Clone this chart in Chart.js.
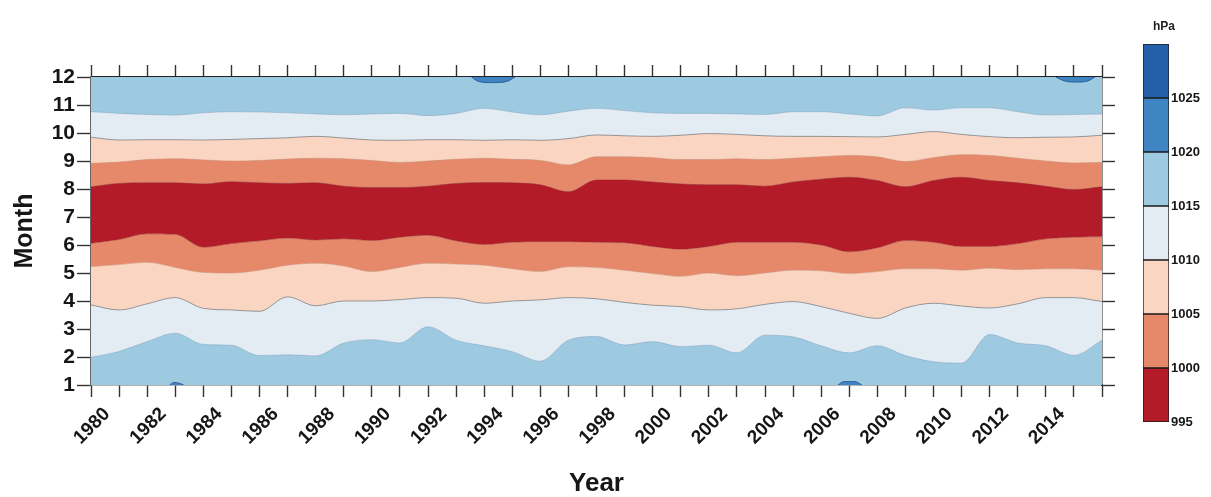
<!DOCTYPE html>
<html lang="en">
<head>
<meta charset="UTF-8">
<title>Monthly pressure by year</title>
<script src="https://cdn.jsdelivr.net/npm/chart.js@4.4.1/dist/chart.umd.min.js"></script>
<style>
  body { margin: 0; background: #fff; font-family: "Liberation Sans", Arial, sans-serif; }
  .wrap { position: relative; width: 1211px; height: 497px; }
  #main { position: absolute; left: 0; top: 0; }
  #bar { position: absolute; left: 1133px; top: 0; }
  .unit { position: absolute; left: 1146px; top: 19px; width: 36px; text-align: center;
          font-weight: bold; font-size: 12px; color: #222; }
</style>
</head>
<body>
<div class="wrap">
  <canvas id="main" width="1211" height="497"></canvas>
  <canvas id="bar" width="78" height="497"></canvas>
  <div class="unit">hPa</div>
</div>
<script>
// years on the x axis
const years = [1980, 1981, 1982, 1983, 1984, 1985, 1986, 1987, 1988, 1989,
               1990, 1991, 1992, 1993, 1994, 1995, 1996, 1997, 1998, 1999,
               2000, 2001, 2002, 2003, 2004, 2005, 2006, 2007, 2008, 2009,
               2010, 2011, 2012, 2013, 2014, 2015, 2016];

// month position of each contour (lower and upper branch)
const c1015lo = [1.99, 2.2, 2.55, 2.85, 2.45, 2.42, 2.05, 2.08, 2.04, 2.5,
                 2.62, 2.5, 3.08, 2.6, 2.4, 2.19, 1.85, 2.6, 2.73, 2.43,
                 2.55, 2.37, 2.42, 2.15, 2.78, 2.72, 2.4, 2.15, 2.4, 2.05,
                 1.83, 1.78, 2.8, 2.5, 2.4, 2.06, 2.6];
const c1010lo = [3.86, 3.68, 3.9, 4.12, 3.74, 3.68, 3.63, 4.15, 3.83, 4.0,
                 4.0, 4.05, 4.12, 4.1, 3.92, 4.0, 4.04, 4.12, 4.08, 3.95,
                 3.85, 3.8, 3.68, 3.72, 3.88, 3.98, 3.8, 3.56, 3.38, 3.75,
                 3.92, 3.82, 3.75, 3.9, 4.12, 4.12, 3.98];
const c1005lo = [5.23, 5.3, 5.38, 5.2, 5.02, 5.0, 5.1, 5.28, 5.35, 5.25,
                 5.05, 5.2, 5.35, 5.32, 5.28, 5.15, 5.05, 5.22, 5.2, 5.1,
                 4.98, 4.88, 5.0, 4.9, 5.0, 5.1, 5.08, 4.98, 5.05, 5.15,
                 5.15, 5.1, 5.17, 5.12, 5.15, 5.15, 5.1];
const c1000lo = [6.06, 6.2, 6.4, 6.38, 5.92, 6.05, 6.15, 6.25, 6.18, 6.22,
                 6.16, 6.28, 6.35, 6.15, 6.02, 6.1, 6.12, 6.12, 6.1, 6.08,
                 5.95, 5.85, 5.95, 6.1, 6.1, 6.1, 6.0, 5.76, 5.9, 6.16,
                 6.1, 5.95, 5.95, 6.05, 6.22, 6.28, 6.3];
const c1000hi = [8.08, 8.2, 8.22, 8.22, 8.18, 8.26, 8.22, 8.2, 8.22, 8.1,
                 8.05, 8.05, 8.1, 8.2, 8.23, 8.22, 8.15, 7.9, 8.32, 8.32,
                 8.25, 8.18, 8.15, 8.15, 8.1, 8.25, 8.35, 8.42, 8.3, 8.08,
                 8.3, 8.42, 8.3, 8.22, 8.1, 7.98, 8.08];
const c1005hi = [8.92, 8.96, 9.05, 9.08, 9.04, 9.0, 9.02, 9.07, 9.1, 9.08,
                 9.02, 8.95, 9.0, 9.06, 9.1, 9.06, 9.02, 8.86, 9.15, 9.15,
                 9.12, 9.05, 9.05, 9.08, 9.05, 9.1, 9.15, 9.2, 9.15, 8.98,
                 9.12, 9.22, 9.2, 9.1, 9.0, 8.93, 8.95];
const c1010hi = [9.85, 9.75, 9.76, 9.76, 9.75, 9.77, 9.8, 9.83, 9.88, 9.82,
                 9.75, 9.74, 9.76, 9.76, 9.74, 9.76, 9.74, 9.8, 9.93, 9.9,
                 9.88, 9.92, 9.98, 9.95, 9.9, 9.88, 9.88, 9.87, 9.86, 9.95,
                 10.05, 9.95, 9.87, 9.83, 9.85, 9.86, 9.92];
const c1015hi = [10.76, 10.7, 10.66, 10.64, 10.72, 10.76, 10.75, 10.72, 10.68, 10.65,
                 10.68, 10.7, 10.62, 10.7, 10.88, 10.75, 10.65, 10.78, 10.88, 10.8,
                 10.72, 10.7, 10.7, 10.68, 10.66, 10.76, 10.76, 10.68, 10.61, 10.9,
                 10.82, 10.9, 10.9, 10.76, 10.64, 10.66, 10.68];

// small 1020 hPa patches at the edges
const patchTopAYears = [1993.55, 1993.8, 1994.3, 1994.8, 1995.1];
const patchTopAMonth = [12, 11.84, 11.8, 11.84, 12];
const patchTopBYears = [2014.35, 2014.7, 2015.1, 2015.5, 2015.75];
const patchTopBMonth = [12, 11.85, 11.82, 11.86, 12];
const patchLowAYears = [1982.8, 1982.95, 1983.15, 1983.3];
const patchLowAMonth = [1, 1.09, 1.06, 1];
const patchLowBYears = [2006.6, 2006.8, 2007.2, 2007.45];
const patchLowBMonth = [1, 1.12, 1.12, 1];

// colour bar levels (hPa)
const levels = [995, 1000, 1005, 1010, 1015, 1020, 1025, 1030];
const levelColors = ['#b31b29', '#e6896a', '#fad5c2', '#e3ebf3', '#9dc9e1', '#3f84c3', '#2460aa'];

Chart.defaults.font.family = '"Liberation Sans", Arial, sans-serif';

const pts = arr => years.map((yr, i) => ({ x: yr, y: arr[i] }));
const pts2 = (xs, ys) => xs.map((x, i) => ({ x: x, y: ys[i] }));

function band(data, color, line, fill) {
  return { data: data, borderColor: line, borderWidth: 1, backgroundColor: color, fill: fill };
}

const blue2 = levelColors[5];
const datasets = [
  band(pts2(patchTopAYears, patchTopAMonth), blue2, '#2b5f98', 'end'),
  band(pts2(patchTopBYears, patchTopBMonth), blue2, '#2b5f98', 'end'),
  band(pts2(patchLowAYears, patchLowAMonth), blue2, '#2b5f98', 'start'),
  band(pts2(patchLowBYears, patchLowBMonth), blue2, '#2b5f98', 'start'),
  band(pts(c1015lo), 'transparent', 'rgba(110,140,170,0.35)', false),
  band(pts(c1010lo), levelColors[3], 'rgba(120,120,120,0.7)', '-1'),
  band(pts(c1005lo), levelColors[2], 'rgba(215,140,110,0.5)', '-1'),
  band(pts(c1000lo), levelColors[1], 'rgba(160,40,40,0.5)', '-1'),
  band(pts(c1000hi), levelColors[0], 'rgba(160,40,40,0.5)', '-1'),
  band(pts(c1005hi), levelColors[1], 'rgba(215,140,110,0.5)', '-1'),
  band(pts(c1010hi), levelColors[2], 'rgba(120,120,120,0.7)', '-1'),
  band(pts(c1015hi), levelColors[3], 'rgba(110,140,170,0.35)', '-1'),
  band([{ x: 1980, y: 12 }, { x: 2016, y: 12 }], levelColors[4], 'transparent', 'start')
];

const tickGrid = len => ({ drawOnChartArea: false, tickLength: len, tickColor: '#333', tickWidth: 1.4 });

new Chart(document.getElementById('main'), {
  type: 'line',
  data: { datasets: datasets },
  options: {
    responsive: false,
    animation: false,
    layout: { padding: { left: 0, right: 95, top: 0, bottom: 0 } },
    plugins: { legend: { display: false }, tooltip: { enabled: false } },
    elements: { point: { radius: 0 }, line: { cubicInterpolationMode: 'monotone' } },
    scales: {
      x: {
        type: 'linear', position: 'bottom', min: 1980, max: 2016,
        afterFit: s => { s.height = 112; },
        ticks: {
          stepSize: 1, autoSkip: false, minRotation: 45, maxRotation: 45,
          labelOffset: 16, padding: 6, color: '#161616',
          font: { size: 19, weight: 'bold' },
          callback: v => (v % 2 === 0 && v <= 2014) ? String(v) : ''
        },
        grid: tickGrid(12),
        border: { color: '#666', width: 1.5 },
        title: { display: true, text: 'Year', color: '#161616',
                 font: { size: 26, weight: 'bold', lineHeight: 1 }, padding: { top: 0, bottom: 0 } }
      },
      xt: {
        type: 'linear', position: 'top', min: 1980, max: 2016,
        afterFit: s => { s.height = 77; },
        ticks: { display: false, stepSize: 1, autoSkip: false },
        grid: tickGrid(12),
        border: { color: '#222', width: 1.5 }
      },
      y: {
        type: 'linear', position: 'left', min: 1, max: 12,
        afterFit: s => { s.width = 91; },
        ticks: { stepSize: 1, autoSkip: false, padding: 2, color: '#161616',
                 font: { size: 21, weight: 'bold' } },
        grid: tickGrid(14),
        border: { color: '#666', width: 1.5 },
        title: { display: true, text: 'Month', color: '#161616',
                 font: { size: 25, weight: 'bold' }, padding: { top: 10, bottom: 0 } }
      },
      yr: {
        type: 'linear', position: 'right', min: 1, max: 12,
        afterFit: s => { s.width = 14; },
        ticks: { display: false, stepSize: 1, autoSkip: false },
        grid: tickGrid(13),
        border: { color: '#222', width: 1.5 }
      }
    }
  }
});

// colour bar
const barSets = levelColors.map((c, i) => ({
  data: [[levels[i], levels[i + 1]]],
  backgroundColor: c,
  borderColor: '#1b1b1b',
  borderWidth: 1,
  borderSkipped: false,
  grouped: false,
  barPercentage: 1,
  categoryPercentage: 1
}));

new Chart(document.getElementById('bar'), {
  type: 'bar',
  data: { labels: [''], datasets: barSets },
  options: {
    responsive: false,
    animation: false,
    layout: { padding: { left: 10, right: 0, top: 44, bottom: 75 } },
    plugins: { legend: { display: false }, tooltip: { enabled: false } },
    scales: {
      x: { display: false },
      y: {
        position: 'right', min: 995, max: 1030,
        afterFit: s => { s.width = 42; },
        ticks: { stepSize: 5, autoSkip: false, padding: 2, color: '#161616',
                 font: { size: 13, weight: 'bold' },
                 callback: v => v === 1030 ? '' : v },
        grid: { display: false, drawTicks: false },
        border: { display: false }
      }
    }
  }
});
</script>
</body>
</html>
